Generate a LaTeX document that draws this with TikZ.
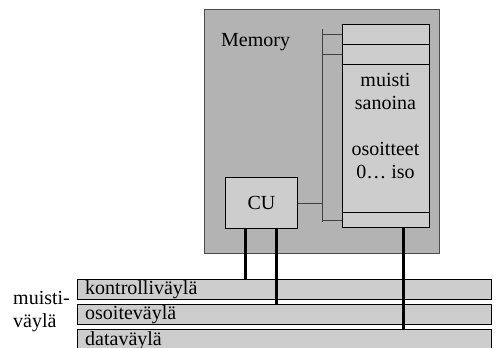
\documentclass[tikz,border=0pt]{standalone}
\usepackage{fontspec}
\setmainfont{Liberation Serif}
\definecolor{memgray}{HTML}{B3B3B3}
\definecolor{cellgray}{HTML}{CDCDCD}
\tikzset{
    every node/.style={font=\fontsize{20}{23}\selectfont}
}
\tikzset{
    membox/.style={rectangle, draw=black!70, fill=memgray, line width=0.8pt,
        inner sep=0pt, anchor=north west},
    cellbox/.style={rectangle, draw=black, fill=cellgray, line width=0.8pt,
        inner sep=0pt, anchor=north west},
    txt/.style={inner sep=0pt},
    wire/.style={draw=black!75, line width=0.8pt},
    buswire/.style={line width=3pt}
}

\begin{document}
\begin{tikzpicture}[x=1pt, y=-1pt]
  \clip (0,0) rectangle (498,348);

  \node (mem) [membox, minimum width=235, minimum height=244] at (204,9) {};
  \node (memlbl) [txt, anchor=west] at (221,42) {Memory};

  \node (c1) [cellbox, minimum width=87, minimum height=20] at (342,24) {};
  \node (c2) [cellbox, minimum width=87, minimum height=20] at (342,44) {};
  \node (c3) [cellbox, minimum width=87, minimum height=148] at (342,64) {};
  \node (c4) [cellbox, minimum width=87, minimum height=15] at (342,212) {};
  \node (words) [txt, align=center] at (385.5,126) {muisti\\sanoina\\[23pt]osoitteet\\0… iso};

  \node (cu) [cellbox, minimum width=72, minimum height=51] at (225,177) {};
  \node (culbl) [txt] at (cu.center) {CU};

  \node (kbar) [cellbox, minimum width=414, minimum height=20] at (77,279) {};
  \node (obar) [cellbox, minimum width=414, minimum height=20] at (77,304) {};
  \node (dbar) [cellbox, minimum width=414, minimum height=25] at (77,329) {};
  \node (klbl) [txt, anchor=west] at ([xshift=8pt]kbar.west) {kontrolliväylä};
  \node (olbl) [txt, anchor=west] at ([xshift=8pt]obar.west) {osoiteväylä};
  \node (dlbl) [txt, anchor=west] at ([xshift=8pt, yshift=-2pt]dbar.north west) [anchor=north west] {dataväylä};
  \node (buslbl) [txt, align=left, anchor=west] at (13,312) {muisti-\\väylä};

  % internal memory bus
  \coordinate (bt) at (322,29);
  \coordinate (bb) at (322,222);
  \draw [wire] (bt) -- (bb);
  \draw [wire] (c1.west) -- (c1.west -| bt);
  \draw [wire] (c2.west) -- (c2.west -| bt);
  \draw [wire] (c4.west) -- (c4.west -| bt);
  \draw [wire] (cu.east) -- (cu.east -| bt);

  % connections to the system bus
  \coordinate (kx) at (245,0);
  \coordinate (ox) at (276,0);
  \coordinate (dx) at (403,0);
  \draw [buswire] (cu.south -| kx) -- (kbar.north -| kx);
  \draw [buswire] (cu.south -| ox) -- (obar.north -| ox);
  \draw [buswire] (c4.south -| dx) -- (dbar.north -| dx);
\end{tikzpicture}
\end{document}
